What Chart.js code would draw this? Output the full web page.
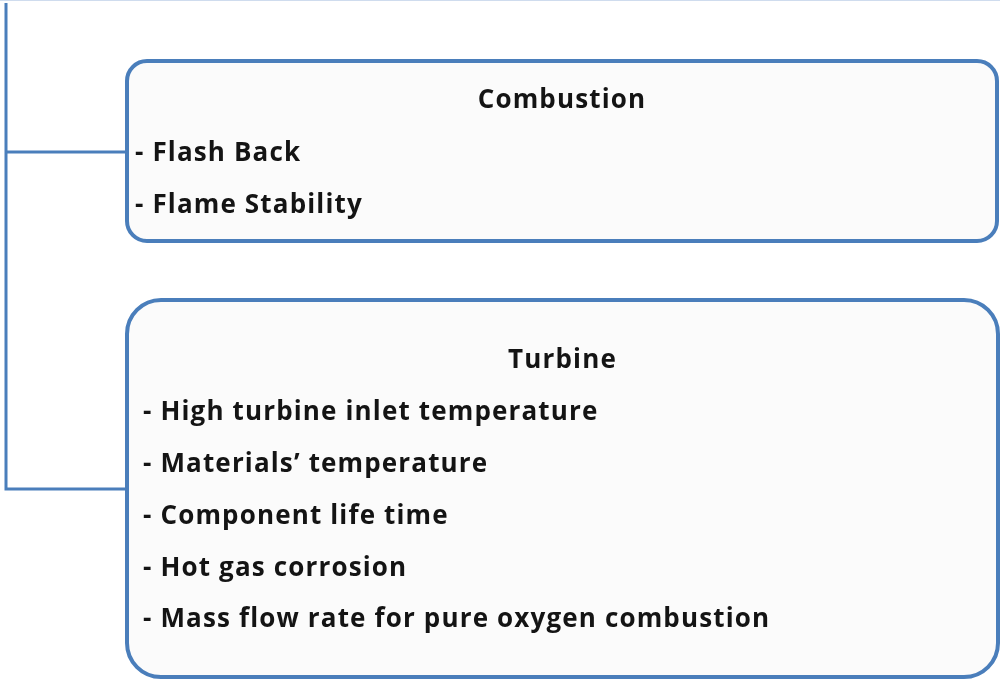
<!DOCTYPE html>
<html>
<head>
<meta charset="utf-8">
<script src="https://cdn.jsdelivr.net/npm/chart.js@4.4.0/dist/chart.umd.min.js"></script>
<style>
html, body { margin: 0; padding: 0; background: #fff; }
#wrap { width: 1000px; height: 679px; }
</style>
</head>
<body>
<div id="wrap"><canvas id="diagramChart" width="1000" height="679"></canvas></div>
<script>
// diagram content
var boxTitles = ['Combustion', 'Turbine'];
var combustionItems = ['- Flash Back', '- Flame Stability'];
var turbineItems = [
    '- High turbine inlet temperature',
    '- Materials\u2019 temperature',
    '- Component life time',
    '- Hot gas corrosion',
    '- Mass flow rate for pure oxygen combustion'
];
var boxItems = [combustionItems, turbineItems];

// layout, in the 1000 x 679 frame
var boxes = [
    {left: 127, right: 997, top: 61, bottom: 241, radius: 20, titleY: 101, itemX: 135, itemY: 154, joinY: 152},
    {left: 127, right: 998, top: 300, bottom: 677, radius: 34, titleY: 361, itemX: 143, itemY: 413, joinY: 489}
];
var lineGap = 51.7;
var trunkX = 6;
var trunkTop = 3;
var blue = '#4a7ebb';
var textFont = 'bold 26px "Open Sans"';

var diagramPlugin = {
    id: 'diagram',
    afterDraw: function(chart) {
        var ctx = chart.ctx;
        var sx = chart.scales.x, sy = chart.scales.y;
        var X = function(v) { return sx.getPixelForValue(v); };
        var Y = function(v) { return sy.getPixelForValue(v); };

        ctx.save();
        // faint line along the top edge
        ctx.strokeStyle = '#cfdcee';
        ctx.lineWidth = 1;
        ctx.beginPath();
        ctx.moveTo(X(0), Y(0) + 0.5);
        ctx.lineTo(X(1000), Y(0) + 0.5);
        ctx.stroke();

        // connector lines
        ctx.strokeStyle = blue;
        ctx.lineWidth = 3;
        ctx.beginPath();
        ctx.moveTo(X(trunkX), Y(trunkTop));
        ctx.lineTo(X(trunkX), Y(boxes[1].joinY));
        for (var i = 0; i < boxes.length; i++) {
            ctx.moveTo(X(trunkX) - 1.5, Y(boxes[i].joinY));
            ctx.lineTo(X(boxes[i].left), Y(boxes[i].joinY));
        }
        ctx.stroke();

        // boxes
        for (var b = 0; b < boxes.length; b++) {
            var bx = boxes[b];
            var l = X(bx.left), r = X(bx.right), t = Y(bx.top), btm = Y(bx.bottom);
            ctx.beginPath();
            ctx.roundRect(l, t, r - l, btm - t, bx.radius);
            ctx.fillStyle = '#fbfbfb';
            ctx.fill();
            ctx.lineWidth = 4;
            ctx.strokeStyle = blue;
            ctx.stroke();

            ctx.fillStyle = '#141414';
            ctx.textBaseline = 'middle';
            ctx.font = textFont;
            ctx.letterSpacing = '1.15px';
            ctx.textAlign = 'center';
            ctx.fillText(boxTitles[b], (l + r) / 2, Y(bx.titleY));

            ctx.textAlign = 'left';
            var items = boxItems[b];
            for (var k = 0; k < items.length; k++) {
                ctx.fillText(items[k], X(bx.itemX), Y(bx.itemY + k * lineGap));
            }
        }
        ctx.restore();
    }
};

var diagramchart = document.getElementById('diagramChart');

let diagramChart = new Chart(diagramchart, {
    type: 'scatter',
    data: {
        datasets: []
    },
    options: {
        responsive: false,
        animation: false,
        layout: { padding: 0 },
        plugins: {
            legend: { display: false },
            tooltip: { enabled: false }
        },
        scales: {
            x: { type: 'linear', min: 0, max: 1000, display: false },
            y: { type: 'linear', min: 0, max: 679, reverse: true, display: false }
        }
    },
    plugins: [diagramPlugin]
});
</script>
</body>
</html>
